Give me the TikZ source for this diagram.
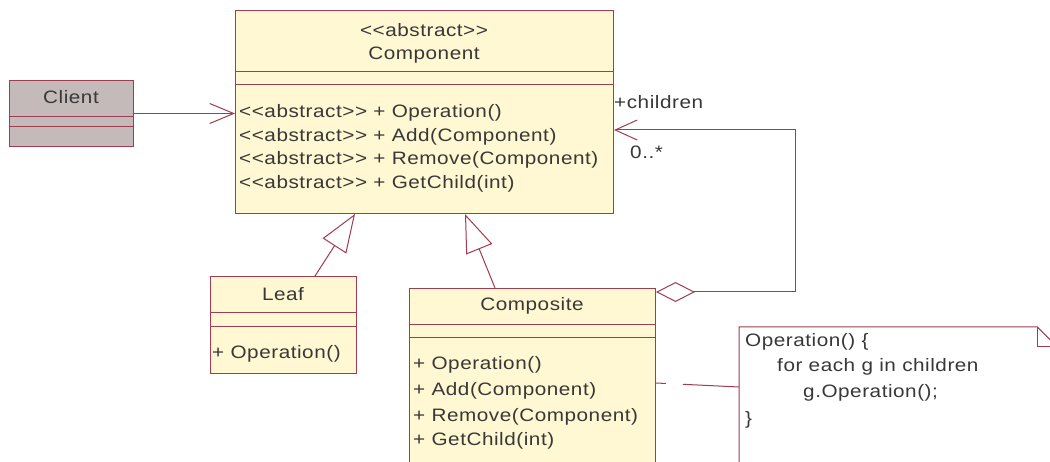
\documentclass[tikz,border=0pt]{standalone}
\usepackage{fontspec}
\newfontfamily\umlfont{Liberation Sans}[FakeStretch=1.15, LetterSpace=3]
\usetikzlibrary{arrows.meta}
\definecolor{umlline}{RGB}{160,60,80}
\definecolor{umlfill}{RGB}{255,248,210}
\definecolor{clientfill}{RGB}{196,186,186}

\begin{document}
\begin{tikzpicture}[x=1pt,y=-1pt,
  cls/.style={draw=umlline, fill=umlfill, line width=1pt, anchor=north west, inner sep=0pt},
  sep/.style={draw=umlline, line width=1pt},
  txt/.style={inner sep=0pt, text=black!78, font=\umlfont\fontsize{18}{20}\selectfont},
  ltxt/.style={txt, anchor=west}]
\clip (0,0) rectangle (1050,462);
\fill[white] (0,0) rectangle (1050,462);

% Component
\node[cls, minimum width=378pt, minimum height=203pt] (0) at (235,10) {};
\draw[sep] (235,72) -- (613,72);
\draw[sep] (235,85) -- (613,85);
\node[txt] (0a) at (424,30) {<<abstract>>};
\node[txt] (0b) at (424,55) {Component};
\node[ltxt] (0c) at (239,113) {<<abstract>> + Operation()};
\node[ltxt] (0d) at (239,137) {<<abstract>> + Add(Component)};
\node[ltxt] (0e) at (239,160) {<<abstract>> + Remove(Component)};
\node[ltxt] (0f) at (239,184) {<<abstract>> + GetChild(int)};

% Client
\node[cls, fill=clientfill, minimum width=124pt, minimum height=66pt] (1) at (9,80) {};
\draw[sep] (9,117) -- (133,117);
\draw[sep] (9,127) -- (133,127);
\node[txt] (1a) at (71,97) {Client};

% Leaf
\node[cls, minimum width=146pt, minimum height=97pt] (2) at (210,276) {};
\draw[sep] (210,313) -- (356,313);
\draw[sep] (210,327) -- (356,327);
\node[txt] (2a) at (283,294) {Leaf};
\node[ltxt] (2b) at (212,354) {+ Operation()};

% Composite
\node[cls, minimum width=246pt, minimum height=200pt] (5) at (409,288) {};
\draw[sep] (409,325) -- (655,325);
\draw[sep] (409,338) -- (655,338);
\node[txt] (5a) at (532,306) {Composite};
\node[ltxt] (5b) at (413,365) {+ Operation()};
\node[ltxt] (5c) at (413,391) {+ Add(Component)};
\node[ltxt] (5d) at (413,417) {+ Remove(Component)};
\node[ltxt] (5e) at (413,441) {+ GetChild(int)};

% note
\node[anchor=north west, inner sep=0pt, minimum width=318pt, minimum height=150pt] (6) at (739,327) {};
\draw[sep, fill=white] (6.north west) -- ([xshift=-20pt]6.north east) -- ([yshift=-20pt]6.north east)
  -- (6.south east) -- (6.south west) -- cycle;
\draw[sep] ([xshift=-20pt]6.north east) -- ([xshift=-20pt,yshift=-20pt]6.north east) -- ([yshift=-20pt]6.north east);
\node[ltxt] (6a) at (745,342) {Operation() \{};
\node[ltxt] (6b) at (777,367) {for each g in children};
\node[ltxt] (6c) at (803,393) {g.Operation();};
\node[ltxt] (6d) at (745,420) {\}};

% connectors
\draw[sep, -{Straight Barb[length=24pt, width=20pt]}] (1.east) -- (1.east -| 0.west);
\draw[sep, -{Triangle[open, length=38pt, width=28pt]}] ([xshift=105pt]2.north west) -- ([xshift=120pt]0.south west);
\draw[sep, -{Triangle[open, length=38pt, width=28pt]}] ([xshift=86pt]5.north west) -- ([xshift=230pt]0.south west);
\draw[sep, {Diamond[open, fill=white, length=39pt, width=20pt]}-{Straight Barb[length=22pt, width=20pt]}]
  ([yshift=-4pt]5.north east) -- ++(139,0) |- ([yshift=-120pt]0.north east);
\node[ltxt] (7) at (614,102) {+children};
\node[ltxt] (8) at (630,152) {0..*};
\draw[sep, dash pattern=on 10pt off 17pt on 60pt] ([yshift=-95pt]5.north east) -- ([yshift=-60pt]6.north west);
\end{tikzpicture}
\end{document}
